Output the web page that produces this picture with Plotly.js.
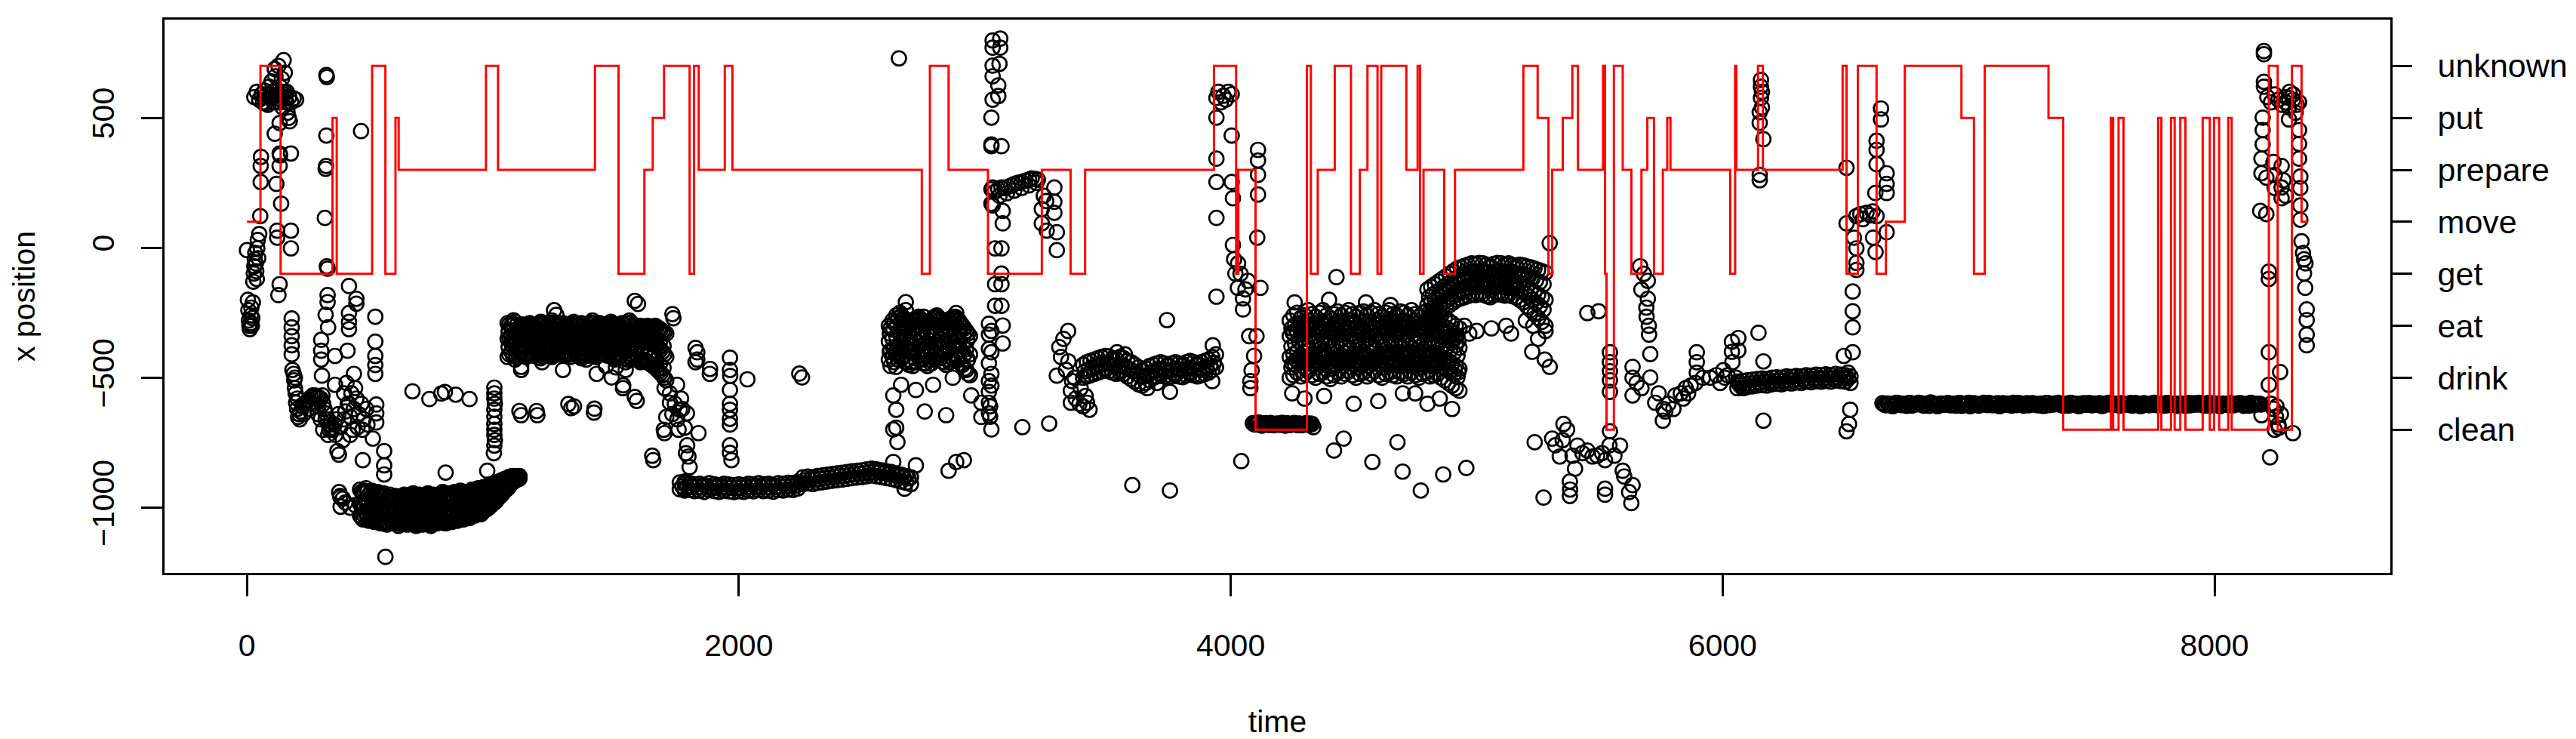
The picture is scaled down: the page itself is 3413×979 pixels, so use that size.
<!DOCTYPE html>
<html>
<head>
<meta charset="utf-8">
<script src="https://cdn.plot.ly/plotly-3.0.1.min.js"></script>
<style>
  html, body { margin: 0; padding: 0; background: #fff; }
  #chart { width: 3413px; height: 979px; }
</style>
</head>
<body>
<div id="chart"></div>
<script>
// activity names on the right axis and the level each one is drawn at
const actLabels = ["clean", "drink", "eat", "get", "move", "prepare", "put", "unknown"];
const actLevels = [-700, -500, -300, -100, 100, 300, 500, 700];

// red step line: time where each activity starts
const stepTimes = [0,55,137,348,365,509,563,604,617,972,1021,1415,1511,1616,1650,1696,1800,1818,1837,1943,1974,2744,2777,2853,
  3013,3232,3349,3408,3932,4022,4031,4101,4310,4326,4354,4423,4489,4525,4556,4597,4612,4714,4760,4770,4784,4868,4912,
  5190,5248,5292,5307,5350,5389,5412,5514,5522,5528,5558,5594,5629,5670,5694,5721,5757,5775,5788,6031,6051,6056,6144,
  6164,6488,6504,6550,6626,6664,6741,6971,7022,7066,7325,7385,7579,7588,7610,7630,7771,7784,7823,7838,7861,7882,7952,
  7981,7998,8019,8056,8070,8221,8257,8315,8354];
const stepActs = ["move","unknown","get","put","get","unknown","get","put","prepare","unknown","prepare","unknown","get","prepare","put","unknown","get","unknown","prepare","unknown","prepare","get","unknown","prepare",
  "get","prepare","get","prepare","unknown","get","prepare","clean","unknown","get","prepare","unknown","get","prepare","unknown","get","unknown","prepare","unknown","get","prepare","get","prepare",
  "unknown","put","get","prepare","put","unknown","prepare","unknown","get","clean","unknown","prepare","get","prepare","put","get","prepare","put","prepare","get","unknown","prepare","unknown",
  "prepare","unknown","get","unknown","get","move","unknown","put","get","unknown","put","clean","put","clean","put","clean","put","clean","put","clean","put","clean","put",
  "clean","put","clean","put","clean","unknown","clean","unknown","move"];
const stepEnd = 8380;

// ---- x position samples, scattered bits as [time, x] ----
const earlyPts = [[0,-9],[4,-200],[6,-240],[8,-280],[10,-300],[12,-313],[14,-290],[16,-260],[18,-230],[20,-300],[22,-270],[24,-210],[26,-130],[28,-99],[30,-71],[32,-44],[34,-20],[36,-60],[38,-90],[40,-120],[42,-2],[44,30],[46,-40],[50,53],[54,122],[56,253],[56,315],[57,350],
  [30,580],[40,600],[50,570],[60,590],[65,560],[70,580],[72,605],[76,556],[80,591],[85,550],[90,620],[95,575],[100,640],[105,600],[110,560],[113,688],[116,660],[120,610],[125,590],[128,700],[130,560],[133,480],[135,620],[138,585],[140,570],[142,650],[145,540],[149,722],[150,590],[152,600],[154,674],[156,577],[160,560],[162,600],[165,520],[170,500],[172,580],[174,487],[180,560],[190,575],[200,570],
  [133,363],[135,356],[133,315],[113,439],[120,246],[139,170],[123,66],[123,39],[179,363],[179,66],[179,-2],[133,-140],[128,-182],[182,-272],[182,-306],[182,-340],[182,-375],[182,-410]];

const dipPts = [[185,-470],[190,-485],[192,-510],[195,-540],[198,-560],[200,-596],[204,-620],[208,-651],[212,-640],[218,-630],[225,-610],[232,-600],[240,-596],[246,-590],[252,-585],[260,-575],[268,-568],[276,-568],[284,-572],[292,-575],[300,-580],[307,-568],[310,-600],[315,-620],[320,-637],[330,-660],[340,-680],[348,-692],[356,-680],[364,-660],[372,-640],
  [195,-500],[205,-580],[215,-660],[230,-640],[250,-620],[270,-600],[290,-610],[320,-660],[335,-700],[290,-640],[300,-660],[310,-700],[330,-720],[345,-700],[360,-720],[380,-690],[395,-660],[400,-630],[410,-600],[420,-650],[430,-700],[420,-720],[390,-740],
  [395,-560],[405,-520],[415,-600],[425,-560],[435,-620],[445,-580],[455,-640],[465,-600],[475,-660],[485,-620],[490,-680],[470,-700],[450,-690],
  [325,657],[323,665],[323,432],[320,304],[322,315],[317,115],[325,-71],[328,-80],[328,-182],[328,-209],[320,-258],[330,-306],[302,-354],[302,-396],[302,-430],[305,-492],[358,-416],[358,-527],[368,-782],[374,-796],[375,-940],[380,-960],
  [415,-147],[445,-196],[445,-215],[415,-251],[415,-285],[415,-313],[409,-396],[435,-485],[440,-540],[464,449],[471,-817],[522,-265],[522,-361],[522,-416],[522,-451],[522,-485],[526,-603],[526,-637],[526,-672],[512,-734],[558,-782],[558,-837],[558,-872],[563,-1189]];

const floorExtra = [[379,-955],[381,-996],[390,-965],[400,-980],[420,-1000],[440,-990],[808,-865],[977,-858]];

const midScatter = [[673,-552],[742,-582],[790,-561],[805,-555],[849,-565],[905,-582],[1006,-538],[1006,-560],[1006,-580],[1008,-600],[1006,-623],[1006,-650],[1006,-678],[1006,-700],[1006,-720],[1008,-740],[1006,-761],[1004,-790],
  [1108,-628],[1115,-644],[1178,-628],[1181,-644],[1307,-601],[1319,-617],[1330,-610],[1411,-634],[1413,-619]];

const upperExtra = [[1084,-279],[1249,-240],[1258,-258],[1115,-458],[1115,-470],[1200,-440],[1285,-470],[1380,-430],[1422,-485],[1460,-455],[1483,-499],[1500,-460],[1530,-529],[1540,-470],[1577,-574],[1577,-204],[1590,-216],[1730,-255],[1734,-271],[1648,-800],[1695,-700]];

const descentPts = [[1698,-540],[1749,-527],[1720,-596],[1760,-623],[1705,-651],[1780,-692],[1836,-713],[1698,-713],[1585,-589],[1529,-540],[1652,-817],[1795,-803],[1800,-844],[1780,-899],[1780,-927],
  [1720,-560],[1740,-600],[1730,-640],[1750,-660],[1770,-620],[1765,-580],[1755,-700],[1790,-760],[1785,-790],[1789,-637],[1824,-385],[1831,-402],[1831,-430],[1824,-440],[1882,-485],[1883,-466],
  [1964,-423],[1964,-470],[1965,-493],[1964,-547],[1964,-600],[1964,-623],[1964,-658],[1964,-680],[1964,-760],[1964,-789],[1970,-817],[2035,-506],[2246,-484],[2257,-499]];

const cluster2Extra = [[2651,729],[2679,-209],[2679,-240],[2751,-265],[2884,-251],[2915,-334],[2639,-458],[2660,-527],[2720,-547],[2790,-527],[2870,-500],[2628,-568],[2640,-623],[2640,-692],[2628,-699],[2645,-747],[2628,-824],[2645,-872],[2674,-927],[2720,-837],[2756,-630],[2843,-644],[2884,-824],[2915,-817],[2853,-858]];

const col3000Pts = [[3032,798],[3032,770],[3032,701],[3032,660],[3032,570],[3027,501],[3027,398],[3032,232],[3032,163],[3042,-2],[3042,-140],[3042,-223],[3027,-320],[3027,-402],[3027,-485],[3027,-530],[3022,-610],[2986,-596],[2945,-568],[2986,-651],[3022,-650],
  [3063,805],[3063,770],[3060,708],[3055,625],[3055,584],[3068,391],[3027,391],[3017,-292],[3017,-334],[3017,-389],[3017,-444],[3017,-513],[3017,-554],[3017,-596],[3017,-637],[3027,-699],
  [3073,142],[3073,94],[3068,-2],[3068,-99],[3068,-140],[3068,-223],[3073,-299],[3073,-368]];

const band3aPts = [[3027,225],[3027,170],[3040,215],[3055,225],[3068,232],[3080,230],[3095,235],[3109,240],[3120,245],[3135,250],[3150,253],[3165,258],[3180,262],[3191,267],[3205,265],[3216,262],[3060,200],[3090,210],[3120,220],[3150,230],[3180,240],[3210,250],
  [3283,232],[3283,177],[3283,135],[3232,149],[3232,94],[3252,66],[3293,60],[3293,-9],[3240,200],[3250,180],[3153,-690],[3262,-676]];

const cluster3aPts = [[3339,-320],[3320,-350],[3303,-382],[3340,-437],[3293,-492],[3355,-513],[3350,-596],[3416,-596],[3426,-623],[3330,-470],[3350,-550],[3370,-580],[3385,-600],[3400,-610],[3410,-570],[3390,-540],[3310,-420],[3365,-500]];

const band3bExtra = [[3538,-402],[3570,-410],[3661,-540],[3700,-520],[3753,-554],[3927,-375],[3930,-444],[3925,-513],[3600,-913],[3753,-934],[3741,-278]];

const col4000Pts = [[3942,577],[4004,591],[3970,585],[3960,560],[3950,600],[3980,570],[3990,600],[3942,501],[4004,432],[3942,343],[3942,253],[4004,253],[4009,191],[3942,115],[3942,-188],[4009,11],[4014,-44],[4019,-99],[4029,-154],[4050,-195],[4050,-237],[4070,-127],[4030,-60],[4040,-100],[4060,-160],
  [4111,377],[4111,336],[4111,281],[4111,205],[4108,39],[4121,-154],[4075,-340],[4105,-340],[4095,-416],[4085,-471],[4080,-513],[4080,-540],[4043,-821]];

const cleanPts = [[4090,-675],[4096,-679],[4102,-680],[4108,-676],[4114,-672],[4120,-681],[4126,-684],[4132,-678],[4138,-676],[4144,-675],[4150,-680],[4156,-682],[4162,-674],[4168,-678],[4174,-683],[4180,-680],[4186,-677],[4192,-676],[4198,-681],[4204,-679],[4210,-673],[4216,-681],[4222,-684],[4228,-675],[4234,-678],[4240,-682],[4246,-680],[4252,-677],[4258,-674],[4264,-679],[4270,-682],[4276,-676],[4282,-677],[4288,-683],[4294,-680],[4300,-678],[4306,-675],[4312,-679],[4318,-682],[4324,-676],[4330,-678],[4336,-690]];

const cluster3Extra = [[4459,-734],[4420,-780],[4576,-824],[4430,-113],[4678,-748],[4699,-861],[4773,-934],[4864,-872],[4958,-847],[4250,-560],[4300,-580],[4380,-570],[4500,-600],[4600,-590],[4700,-560],[4800,-600],[4900,-620],[4850,-580],[4750,-560],[4550,-210],[4650,-220],[4260,-210],[4400,-200]];

const humpExtra = [[5277,-430],[5297,-458],[5226,-400],[5250,-350],[5280,-320],[5297,18],[5450,-251],[5496,-244],[5200,-280],[5230,-300],[4950,-300],[5000,-320],[5060,-310],[5120,-300],[5140,-330],[4970,-330]];

const cluster5Pts = [[5236,-748],[5307,-734],[5353,-678],[5368,-700],[5338,-803],[5410,-761],[5471,-803],[5522,-817],[5583,-761],[5379,-899],[5379,-955],[5522,-927],[5522,-950],[5594,-858],[5634,-913],[5629,-982],[5272,-961],[5542,-706],
  [5320,-760],[5350,-740],[5390,-800],[5430,-790],[5450,-780],[5490,-800],[5510,-790],[5540,-760],[5560,-800],[5600,-880],[5620,-940],[5400,-850],[5380,-930],
  [5542,-402],[5542,-440],[5542,-475],[5542,-510],[5542,-554]];

const cluster6Pts = [[5665,-71],[5696,-127],[5670,-161],[5696,-196],[5691,-265],[5701,-334],[5706,-409],[5680,-100],[5690,-230],[5700,-300]];

const band4Pts = [[5634,-458],[5634,-500],[5634,-568],[5650,-520],[5670,-540],[5706,-499],[5726,-596],[5757,-665],[5767,-630],[5740,-560],[5780,-600],[5808,-568],[5830,-560],[5850,-540],[5870,-530],[5895,-402],[5895,-440],[5895,-480],[5890,-520],[5920,-500],[5950,-500],[5975,-490],[6003,-471],[6010,-500],[6038,-361],[6038,-400],[6040,-440],[6055,-500],[6070,-520],[6084,-540],[5760,-620],[5800,-620],[5840,-580],[5860,-560],[5990,-520],[6020,-490]];

const col6150Pts = [[6156,646],[6156,620],[6160,600],[6156,577],[6160,540],[6151,522],[6151,481],[6166,418],[6151,281],[6151,260],[6146,-327],[6166,-437],[6166,-665],[6064,-347],[6064,-395]];

const col6500Pts = [[6504,308],[6504,94],[6534,39],[6544,-2],[6544,-58],[6544,-85],[6529,-168],[6529,-244],[6529,-306],[6493,-416],[6529,-402],[6519,-623],[6514,-678],[6504,-706],[6500,-500],[6510,-480],
  [6544,122],[6585,135],[6626,122],[6560,130],[6600,125],[6570,110],[6610,140],[6612,39],[6622,-16],[6644,536],[6644,494],[6626,412],[6626,377],[6626,322],[6667,287],[6667,246],[6667,211],[6621,211],[6667,60]];

const endPts = [[8201,757],[8201,745],[8201,639],[8201,620],[8196,501],[8196,453],[8196,398],[8191,343],[8191,287],[8211,270],[8186,142],[8211,130],[8221,-92],[8221,-120],[8221,-402],[8267,-478],[8221,-527],[8252,-610],[8262,-692],[8226,-806],[8319,-713],[8191,-644],
  [8230,-600],[8240,-620],[8250,-650],[8260,-680],[8270,-640],[8245,-700],[8240,330],[8245,280],[8245,230],
  [8215,580],[8230,560],[8245,590],[8260,570],[8275,550],[8290,580],[8305,600],[8320,570],[8335,550],[8303,577],[8303,540],[8303,494],[8344,560],[8290,560],[8320,590],[8330,520],
  [8273,315],[8273,232],[8273,191],[8280,260],[8290,200],[8344,453],[8344,400],[8344,343],[8349,274],[8349,230],[8349,163],[8349,108],[8354,25],[8360,-20],[8364,-44],[8370,-60],[8364,-99],[8369,-154],[8375,-237],[8375,-278],[8375,-334],[8375,-375]];

// ---- dense runs: one time list, several rows of values read across the run ----
const floorT = [460,472,484,496,508,520,532,544,556,568,580,592,604,616,628,640,652,664,676,688,700,712,724,736,748,760,772,784,796,808,820,832,844,856,868,880,892,904,916,928,940,952,964,976,988,1000,1012,1024,1036,1048,1060,1072,1084,1096,1108];
const floorTop = [-930,-945,-925,-950,-935,-960,-940,-955,-945,-965,-950,-970,-955,-975,-960,-950,-965,-955,-945,-960,-950,-965,-955,-945,-960,-950,-965,-950,-940,-955,-945,-960,-940,-950,-935,-950,-940,-945,-930,-940,-925,-935,-920,-925,-910,-915,-905,-900,-895,-890,-885,-880,-878,-880,-878];
const floorMid = [-985,-1000,-975,-1005,-990,-1010,-995,-1015,-1000,-1020,-1005,-1025,-1010,-1030,-1015,-1000,-1025,-1010,-1000,-1020,-1005,-1025,-1010,-1000,-1020,-1005,-1020,-1010,-995,-1015,-1000,-1015,-995,-1005,-990,-1000,-990,-995,-985,-990,-975,-985,-965,-970,-955,-950,-940,-930,-920,-910,-900,-895,-890,-885,-882];
const floorLow = [-1030,-1045,-1020,-1050,-1040,-1055,-1035,-1060,-1050,-1065,-1045,-1060,-1050,-1070,-1055,-1045,-1065,-1050,-1060,-1070,-1055,-1065,-1050,-1060,-1070,-1050,-1060,-1055,-1045,-1060,-1050,-1055,-1045,-1050,-1040,-1045,-1035,-1040,-1030,-1030,-1020,-1025,-1010,-1005,-995,-985,-975,-960,-950,-935,-925,-910,-900,-892,-888];
const floorT2 = [466,478,490,502,514,526,538,550,562,574,586,598,610,622,634,646,658,670,682,694,706,718,730,742,754,766,778,790,802,814,826,838,850,862,874,886,898,910,922,934,946,958,970,982,994,1006,1018,1030,1042,1054,1066,1078,1090,1102];
const floorTop2 = [-938,-935,-938,-943,-948,-950,-948,-950,-955,-958,-960,-962,-965,-968,-955,-958,-960,-950,-952,-955,-958,-960,-950,-952,-955,-958,-958,-945,-948,-950,-952,-950,-945,-942,-942,-945,-942,-938,-935,-932,-930,-928,-922,-918,-912,-910,-902,-898,-892,-888,-882,-879,-879,-879];
const floorMid2 = [-992,-988,-990,-998,-1000,-1002,-1005,-1008,-1010,-1012,-1015,-1018,-1020,-1022,-1008,-1012,-1018,-1005,-1010,-1012,-1015,-1018,-1005,-1010,-1012,-1015,-1012,-1002,-1005,-1008,-1008,-1005,-1000,-998,-995,-995,-992,-990,-988,-982,-980,-975,-968,-962,-952,-945,-935,-925,-915,-905,-898,-892,-888,-884];
const floorLow2 = [-1038,-1032,-1035,-1045,-1048,-1045,-1048,-1055,-1058,-1055,-1052,-1055,-1060,-1062,-1050,-1055,-1058,-1055,-1065,-1062,-1060,-1058,-1055,-1065,-1060,-1055,-1058,-1050,-1052,-1055,-1052,-1050,-1048,-1045,-1042,-1040,-1038,-1035,-1030,-1025,-1022,-1018,-1008,-1000,-990,-980,-968,-955,-942,-930,-918,-905,-896,-890];

const upperT = [1060,1075,1090,1105,1120,1135,1150,1165,1180,1195,1210,1225,1240,1255,1270,1285,1300,1315,1330,1345,1360,1375,1390,1405,1420,1435,1450,1465,1480,1495,1510,1525,1540,1555,1570,1585,1600,1615,1630,1645,1660,1675,1690,1705];
const upperTop = [-290,-300,-285,-310,-295,-305,-290,-300,-310,-285,-295,-305,-280,-295,-300,-290,-305,-295,-285,-300,-290,-310,-295,-280,-300,-290,-305,-295,-285,-300,-310,-290,-300,-280,-295,-305,-300,-305,-300,-310,-300,-310,-320,-330];
const upperMid = [-350,-340,-360,-345,-355,-340,-350,-360,-345,-355,-340,-350,-360,-345,-355,-350,-340,-360,-350,-345,-355,-340,-360,-350,-345,-360,-350,-340,-355,-360,-350,-345,-360,-350,-355,-345,-360,-365,-360,-370,-375,-385,-400,-420];
const upperLow = [-420,-400,-430,-410,-400,-420,-405,-415,-400,-425,-410,-400,-420,-410,-400,-415,-405,-420,-400,-410,-425,-405,-415,-400,-420,-410,-405,-415,-400,-430,-420,-410,-440,-420,-430,-415,-440,-430,-440,-450,-460,-475,-490,-510];
const upperT2 = [1067,1082,1097,1112,1127,1142,1157,1172,1187,1202,1217,1232,1247,1262,1277,1292,1307,1322,1337,1352,1367,1382,1397,1412,1427,1442,1457,1472,1487,1502,1517,1532,1547,1562,1577,1592,1607,1622,1637,1652,1667,1682,1697];
const upperTop2 = [-295,-292,-298,-302,-300,-298,-295,-305,-298,-290,-300,-292,-288,-298,-295,-298,-300,-290,-292,-295,-300,-302,-288,-290,-295,-298,-300,-290,-292,-305,-300,-295,-290,-288,-300,-302,-302,-302,-305,-305,-305,-315,-325];
const upperMid2 = [-345,-350,-352,-350,-348,-345,-355,-352,-350,-348,-345,-355,-352,-350,-352,-345,-350,-355,-348,-350,-348,-350,-355,-348,-352,-355,-345,-348,-358,-355,-348,-352,-355,-352,-350,-352,-362,-362,-365,-372,-380,-392,-410];
const upperLow2 = [-410,-415,-420,-405,-410,-412,-410,-408,-412,-418,-405,-410,-415,-405,-408,-410,-412,-410,-405,-418,-415,-410,-408,-410,-415,-408,-410,-408,-415,-425,-415,-425,-430,-425,-422,-428,-435,-435,-445,-455,-468,-482,-500];
const upperT3 = [1064,1079,1094,1109,1124,1139,1154,1169,1184,1199,1214,1229,1244,1259,1274,1289,1304,1319,1334,1349,1364,1379,1394,1409,1424,1439,1454,1469,1484,1499,1514,1529,1544,1559,1574,1589,1604,1619,1634,1649,1664,1679,1694];
const upperD3 = [-322,-318,-325,-320,-328,-315,-322,-330,-318,-324,-320,-326,-318,-322,-328,-320,-324,-316,-322,-326,-320,-318,-325,-322,-320,-326,-318,-324,-322,-328,-320,-325,-318,-322,-326,-320,-328,-332,-335,-342,-350,-362,-378];
const upperE3 = [-382,-378,-388,-380,-376,-384,-380,-386,-378,-382,-376,-384,-380,-378,-386,-382,-376,-384,-380,-378,-386,-380,-384,-378,-382,-388,-380,-376,-384,-392,-384,-380,-394,-386,-390,-382,-396,-402,-410,-420,-432,-448,-462];

const floor2T = [1760,1780,1800,1820,1840,1860,1880,1900,1920,1940,1960,1980,2000,2020,2040,2060,2080,2100,2120,2140,2160,2180,2200,2220,2240,2260,2280,2300,2320,2340,2360,2380,2400,2420,2440,2460,2480,2500,2520,2540,2560,2580,2600,2620,2640,2660,2680,2700];
const floor2Top = [-903,-908,-906,-910,-908,-913,-906,-910,-913,-908,-911,-914,-910,-913,-908,-911,-906,-910,-908,-912,-906,-908,-904,-906,-900,-883,-880,-883,-878,-876,-873,-870,-868,-866,-863,-860,-858,-856,-853,-850,-853,-856,-860,-863,-868,-873,-878,-883];
const floor2Low = [-929,-934,-932,-936,-934,-939,-932,-936,-939,-934,-937,-940,-936,-939,-934,-937,-932,-936,-934,-938,-932,-934,-930,-932,-926,-909,-906,-909,-904,-902,-899,-896,-894,-892,-889,-886,-884,-882,-879,-876,-879,-882,-886,-889,-894,-899,-904,-909];
const floor2T2 = [1770,1790,1810,1830,1850,1870,1890,1910,1930,1950,1970,1990,2010,2030,2050,2070,2090,2110,2130,2150,2170,2190,2210,2230,2250,2270,2290,2310,2330,2350,2370,2390,2410,2430,2450,2470,2490,2510,2530,2550,2570,2590,2610,2630,2650,2670,2690];
const floor2Mid2 = [-918,-919,-920,-921,-922,-921,-920,-923,-922,-921,-924,-924,-923,-922,-921,-920,-920,-921,-922,-921,-919,-918,-917,-915,-904,-894,-893,-892,-889,-887,-884,-881,-879,-877,-874,-871,-869,-867,-864,-862,-863,-866,-870,-873,-877,-882,-887];

const cl2T = [2610,2625,2640,2655,2670,2685,2700,2715,2730,2745,2760,2775,2790,2805,2820,2835,2850,2865,2880,2895,2910,2925,2940];
const cl2Top = [-300,-280,-260,-250,-270,-280,-290,-275,-265,-280,-290,-285,-270,-260,-275,-290,-280,-270,-265,-280,-300,-320,-340];
const cl2Mid = [-360,-350,-340,-330,-345,-350,-360,-350,-340,-350,-365,-355,-340,-335,-350,-360,-355,-345,-340,-355,-370,-390,-410];
const cl2Low = [-430,-420,-410,-400,-420,-430,-440,-425,-415,-430,-445,-430,-420,-410,-425,-440,-430,-420,-415,-430,-450,-470,-490];
const cl2T2 = [2617,2632,2647,2662,2677,2692,2707,2722,2737,2752,2767,2782,2797,2812,2827,2842,2857,2872,2887,2902,2917,2932];
const cl2A2 = [-310,-290,-270,-262,-275,-285,-282,-270,-272,-285,-288,-278,-265,-268,-282,-285,-275,-268,-272,-290,-310,-330];
const cl2B2 = [-395,-385,-375,-365,-382,-390,-400,-388,-378,-390,-405,-392,-380,-372,-388,-400,-392,-382,-378,-392,-410,-430];
const cl2C2 = [-455,-440,-430,-425,-440,-450,-455,-440,-430,-445,-455,-445,-430,-420,-438,-450,-440,-430,-425,-445,-465,-485];
const cl2T3 = [2614,2629,2644,2659,2674,2689,2704,2719,2734,2749,2764,2779,2794,2809,2824,2839,2854,2869,2884,2899,2914,2929];
const cl2D3 = [-330,-315,-300,-292,-308,-318,-322,-310,-302,-315,-326,-318,-305,-298,-312,-322,-315,-306,-302,-318,-335,-355];
const cl2E3 = [-400,-390,-378,-368,-385,-395,-402,-390,-380,-392,-408,-395,-382,-375,-390,-402,-395,-385,-380,-395,-415,-435];

const band3bT = [3400,3415,3430,3445,3460,3475,3490,3505,3520,3535,3550,3565,3580,3595,3610,3625,3640,3655,3670,3685,3700,3715,3730,3745,3760,3775,3790,3805,3820,3835,3850,3865,3880,3895,3910,3925,3940];
const band3bTop = [-450,-440,-435,-430,-425,-420,-416,-418,-425,-430,-420,-425,-435,-440,-450,-460,-470,-465,-455,-450,-445,-440,-445,-450,-445,-440,-445,-448,-440,-435,-440,-445,-440,-435,-430,-420,-410];
const band3bLow = [-500,-495,-490,-485,-480,-475,-470,-475,-480,-485,-480,-485,-495,-505,-515,-525,-530,-520,-510,-500,-495,-490,-495,-500,-495,-490,-495,-498,-490,-485,-490,-495,-490,-485,-480,-470,-460];
const band3bT2 = [3407,3422,3437,3452,3467,3482,3497,3512,3527,3542,3557,3572,3587,3602,3617,3632,3647,3662,3677,3692,3707,3722,3737,3752,3767,3782,3797,3812,3827,3842,3857,3872,3887,3902,3917,3932];
const band3bMid2 = [-475,-468,-462,-458,-452,-446,-444,-448,-452,-456,-452,-458,-466,-474,-484,-492,-496,-490,-480,-474,-468,-466,-470,-472,-468,-466,-470,-470,-465,-462,-466,-468,-465,-460,-452,-442];

const cl3T = [4240,4255,4270,4285,4300,4315,4330,4345,4360,4375,4390,4405,4420,4435,4450,4465,4480,4495,4510,4525,4540,4555,4570,4585,4600,4615,4630,4645,4660,4675,4690,4705,4720,4735,4750,4765,4780,4795,4810,4825,4840,4855,4870,4885,4900,4915,4930];
const cl3R1 = [-280,-260,-250,-270,-260,-240,-255,-265,-250,-240,-260,-270,-255,-245,-260,-250,-240,-255,-265,-250,-245,-260,-250,-240,-255,-265,-250,-240,-255,-260,-245,-250,-260,-240,-255,-265,-250,-245,-260,-255,-250,-265,-270,-280,-290,-300,-310];
const cl3R2 = [-340,-330,-320,-335,-325,-315,-330,-340,-325,-320,-335,-345,-330,-320,-335,-325,-315,-330,-340,-325,-320,-335,-325,-315,-330,-340,-325,-320,-330,-335,-320,-325,-335,-320,-330,-340,-325,-320,-335,-330,-325,-340,-345,-355,-365,-375,-385];
const cl3R3 = [-420,-410,-400,-415,-405,-395,-410,-420,-405,-400,-415,-425,-410,-400,-415,-405,-395,-410,-420,-405,-400,-415,-405,-395,-410,-420,-405,-400,-410,-415,-400,-405,-415,-400,-410,-420,-405,-400,-415,-410,-405,-420,-425,-435,-445,-455,-465];
const cl3R4 = [-500,-490,-480,-495,-485,-475,-490,-500,-485,-480,-495,-505,-490,-480,-495,-485,-475,-490,-500,-485,-480,-495,-485,-475,-490,-500,-485,-480,-490,-495,-480,-485,-495,-480,-490,-500,-485,-480,-495,-490,-485,-500,-510,-520,-530,-540,-550];
const cl3T2 = [4247,4262,4277,4292,4307,4322,4337,4352,4367,4382,4397,4412,4427,4442,4457,4472,4487,4502,4517,4532,4547,4562,4577,4592,4607,4622,4637,4652,4667,4682,4697,4712,4727,4742,4757,4772,4787,4802,4817,4832,4847,4862,4877,4892,4907,4922];
const cl3A2 = [-310,-295,-290,-300,-292,-280,-292,-302,-288,-282,-298,-308,-292,-282,-298,-288,-278,-292,-302,-288,-282,-298,-288,-278,-292,-302,-288,-282,-292,-298,-282,-288,-298,-282,-292,-302,-288,-282,-298,-292,-288,-302,-308,-318,-328,-338];
const cl3B2 = [-380,-370,-360,-375,-365,-355,-370,-380,-365,-360,-375,-385,-370,-360,-375,-365,-355,-370,-380,-365,-360,-375,-365,-355,-370,-380,-365,-360,-370,-375,-360,-365,-375,-360,-370,-380,-365,-360,-375,-370,-365,-380,-385,-395,-405,-415];
const cl3C2 = [-460,-450,-440,-455,-445,-435,-450,-460,-445,-440,-455,-465,-450,-440,-455,-445,-435,-450,-460,-445,-440,-455,-445,-435,-450,-460,-445,-440,-450,-455,-440,-445,-455,-440,-450,-460,-445,-440,-455,-450,-445,-460,-468,-478,-488,-498];
const cl3T3 = [4251,4266,4281,4296,4311,4326,4341,4356,4371,4386,4401,4416,4431,4446,4461,4476,4491,4506,4521,4536,4551,4566,4581,4596,4611,4626,4641,4656,4671,4686,4701,4716,4731,4746,4761,4776,4791,4806,4821,4836,4851,4866,4881,4896,4911,4926];
const cl3D3 = [-325,-315,-305,-318,-310,-300,-312,-322,-308,-302,-318,-328,-312,-302,-318,-308,-298,-312,-322,-308,-302,-318,-308,-298,-312,-322,-308,-302,-312,-318,-302,-308,-318,-302,-312,-322,-308,-302,-318,-312,-308,-322,-328,-338,-348,-358];
const cl3E3 = [-445,-432,-422,-438,-428,-418,-432,-442,-428,-422,-438,-448,-432,-422,-438,-428,-418,-432,-442,-428,-422,-438,-428,-418,-432,-442,-428,-422,-432,-438,-422,-428,-438,-422,-432,-442,-428,-422,-438,-432,-428,-442,-448,-458,-468,-478];

const humpT = [4800,4815,4830,4845,4860,4875,4890,4905,4920,4935,4950,4965,4980,4995,5010,5025,5040,5055,5070,5085,5100,5115,5130,5145,5160,5175,5190,5205,5220,5235,5250,5265,5280];
const humpH1 = [-160,-150,-140,-130,-120,-110,-100,-90,-80,-75,-70,-65,-60,-62,-58,-60,-65,-70,-62,-58,-60,-64,-60,-66,-70,-65,-68,-72,-75,-80,-85,-90,-95];
const humpH2 = [-220,-210,-200,-190,-180,-170,-160,-150,-140,-135,-130,-125,-120,-122,-118,-120,-125,-130,-122,-118,-120,-124,-120,-126,-130,-135,-140,-150,-160,-170,-180,-190,-200];
const humpH3 = [-280,-270,-260,-250,-240,-230,-220,-210,-200,-195,-190,-185,-180,-182,-178,-180,-185,-190,-182,-178,-180,-184,-180,-186,-190,-200,-210,-225,-240,-255,-270,-285,-300];
const humpT2 = [4807,4822,4837,4852,4867,4882,4897,4912,4927,4942,4957,4972,4987,5002,5017,5032,5047,5062,5077,5092,5107,5122,5137,5152,5167,5182,5197,5212,5227,5242,5257,5272];
const humpA2 = [-190,-180,-170,-160,-150,-140,-130,-120,-110,-105,-100,-95,-90,-92,-88,-90,-95,-100,-92,-88,-90,-94,-90,-96,-100,-100,-104,-110,-118,-125,-132,-140];
const humpB2 = [-250,-240,-230,-220,-210,-200,-190,-180,-170,-165,-160,-155,-150,-152,-148,-150,-155,-160,-152,-148,-150,-154,-150,-156,-160,-168,-175,-188,-200,-212,-225,-238];

const band5T = [6060,6080,6100,6120,6140,6160,6180,6200,6220,6240,6260,6280,6300,6320,6340,6360,6380,6400,6420,6440,6460,6480,6500,6520];
const band5Top = [-515,-512,-510,-508,-505,-503,-505,-500,-498,-500,-495,-497,-493,-495,-490,-492,-488,-490,-487,-490,-485,-488,-490,-495];
const band5Low = [-540,-538,-535,-533,-530,-528,-530,-525,-523,-525,-520,-522,-518,-520,-515,-517,-513,-515,-512,-515,-510,-513,-515,-520];
const band5T2 = [6070,6090,6110,6130,6150,6170,6190,6210,6230,6250,6270,6290,6310,6330,6350,6370,6390,6410,6430,6450,6470,6490,6510];
const band5Mid2 = [-528,-525,-522,-520,-517,-516,-517,-512,-511,-512,-508,-510,-506,-508,-503,-505,-501,-503,-500,-503,-498,-500,-503];

const longT = [6650,6664,6678,6692,6706,6720,6734,6748,6762,6776,6790,6804,6818,6832,6846,6860,6874,6888,6902,6916,6930,6944,6958,6972,6986,7000,7014,7028,7042,7056,7070,7084,7098,7112,7126,7140,7154,7168,7182,7196,7210,7224,7238,7252,7266,7280,7294,7308,7322,7336,7350,7364,7378,7392,7406,7420,7434,7448,7462,7476,7490,7504,7518,7532,7546,7560,7574,7588,7602,7616,7630,7644,7658,7672,7686,7700,7714,7728,7742,7756,7770,7784,7798,7812,7826,7840,7854,7868,7882,7896,7910,7924,7938,7952,7966,7980,7994,8008,8022,8036,8050,8064,8078,8092,8106,8120,8134,8148,8162,8176,8190];
const longV = [-598,-606,-601,-609,-596,-604,-600,-608,-597,-605,
  -602,-598,-607,-600,-595,-603,-609,-599,-604,-597,
  -606,-601,-598,-608,-603,-596,-605,-600,-607,-599,
  -603,-597,-606,-601,-609,-598,-604,-600,-596,-605,
  -601,-607,-598,-603,-599,-606,-600,-608,-597,-604,
  -602,-596,-605,-600,-607,-598,-603,-609,-599,-604,
  -597,-606,-601,-598,-608,-603,-596,-605,-600,-607,
  -599,-603,-597,-606,-601,-609,-598,-604,-600,-596,
  -605,-601,-607,-598,-603,-599,-606,-600,-608,-597,
  -604,-602,-596,-605,-600,-607,-598,-603,-609,-599,
  -604,-597,-606,-601,-598,-608,-603,-596,-605,-600,-603];
const longT2 = [6657,6671,6685,6699,6713,6727,6741,6755,6769,6783,6797,6811,6825,6839,6853,6867,6881,6895,6909,6923,6937,6951,6965,6979,6993,7007,7021,7035,7049,7063,7077,7091,7105,7119,7133,7147,7161,7175,7189,7203,7217,7231,7245,7259,7273,7287,7301,7315,7329,7343,7357,7371,7385,7399,7413,7427,7441,7455,7469,7483,7497,7511,7525,7539,7553,7567,7581,7595,7609,7623,7637,7651,7665,7679,7693,7707,7721,7735,7749,7763,7777,7791,7805,7819,7833,7847,7861,7875,7889,7903,7917,7931,7945,7959,7973,7987,8001,8015,8029,8043,8057,8071,8085,8099,8113,8127,8141,8155,8169,8183];
const longV2 = [-603,-599,-606,-601,-597,-605,-602,-598,-607,-600,
  -596,-604,-600,-608,-598,-606,-601,-603,-599,-605,
  -600,-607,-597,-603,-601,-609,-598,-604,-602,-596,
  -605,-600,-603,-598,-606,-601,-599,-607,-603,-597,
  -604,-600,-606,-598,-603,-601,-608,-597,-605,-600,
  -599,-603,-607,-601,-596,-604,-600,-606,-598,-602,
  -605,-599,-603,-608,-600,-597,-604,-601,-606,-598,
  -603,-600,-607,-597,-604,-599,-602,-606,-598,-605,
  -600,-603,-597,-605,-601,-608,-599,-604,-600,-606,
  -598,-603,-600,-607,-597,-604,-601,-599,-605,-602,
  -606,-600,-603,-598,-604,-601,-607,-599,-603,-600];


class ActivityChart {

    constructor(container){
        this.container = container;
        this.model = {
            pairSets: [earlyPts, dipPts, floorExtra, midScatter, upperExtra, descentPts, cluster2Extra, col3000Pts,
                       band3aPts, cluster3aPts, band3bExtra, col4000Pts, cleanPts, cluster3Extra, humpExtra,
                       cluster5Pts, cluster6Pts, band4Pts, col6150Pts, col6500Pts, endPts],
            runs: [
                [floorT, floorTop, floorMid, floorLow],
                [floorT2, floorTop2, floorMid2, floorLow2],
                [upperT, upperTop, upperMid, upperLow],
                [upperT2, upperTop2, upperMid2, upperLow2],
                [upperT3, upperD3, upperE3],
                [floor2T, floor2Top, floor2Low],
                [floor2T2, floor2Mid2],
                [cl2T, cl2Top, cl2Mid, cl2Low],
                [cl2T2, cl2A2, cl2B2, cl2C2],
                [cl2T3, cl2D3, cl2E3],
                [band3bT, band3bTop, band3bLow],
                [band3bT2, band3bMid2],
                [cl3T, cl3R1, cl3R2, cl3R3, cl3R4],
                [cl3T2, cl3A2, cl3B2, cl3C2],
                [cl3T3, cl3D3, cl3E3],
                [humpT, humpH1, humpH2, humpH3],
                [humpT2, humpA2, humpB2],
                [band5T, band5Top, band5Low],
                [band5T2, band5Mid2],
                [longT, longV],
                [longT2, longV2]
            ]
        }
    }

    _points(){
        const t = [], x = [];
        this.model.pairSets.forEach((set)=>{
            set.forEach((p)=>{ t.push(p[0]); x.push(p[1]); })
        })
        this.model.runs.forEach((run)=>{
            const times = run[0];
            run.slice(1).forEach((row)=>{
                row.forEach((v, i)=>{ t.push(times[i]); x.push(v); })
            })
        })
        return {t, x};
    }

    _steps(){
        const lvl = stepActs.map((a)=>actLevels[actLabels.indexOf(a)]);
        return {
            t: stepTimes.concat([stepEnd]),
            y: lvl.concat([lvl[lvl.length-1]])
        }
    }

    draw(){
        const pts = this._points();
        const st = this._steps();
        const font = "Liberation Sans, Arial, Helvetica, sans-serif";

        const points = {
            x: pts.t, y: pts.x,
            type: 'scatter', mode: 'markers',
            marker: {symbol: 'circle-open', size: 19, color: 'black', line: {width: 2.7, color: 'black'}},
            hoverinfo: 'skip'
        }
        const activity = {
            x: st.t, y: st.y, yaxis: 'y2',
            type: 'scatter', mode: 'lines',
            line: {color: '#ff0000', width: 3, shape: 'hv'},
            hoverinfo: 'skip'
        }

        const axisCommon = {
            ticks: 'outside', ticklen: 28, tickwidth: 3, tickcolor: 'black',
            showgrid: false, zeroline: false,
            tickfont: {family: font, size: 41, color: 'black'}
        }

        const layout = {
            width: 3413, height: 979,
            margin: {l: 218, r: 246, t: 26, b: 220},
            paper_bgcolor: 'white', plot_bgcolor: 'white',
            showlegend: false,
            font: {family: font, size: 41, color: 'black'},
            xaxis: Object.assign({}, axisCommon, {
                range: [-335, 8715],
                tickvals: [0, 2000, 4000, 6000, 8000],
                showline: true, linewidth: 3, linecolor: 'black', mirror: true,
                ticklabelstandoff: 30,
                title: {text: 'time', font: {family: font, size: 41, color: 'black'}, standoff: 70}
            }),
            yaxis: Object.assign({}, axisCommon, {
                range: [-1251, 878],
                tickvals: [-1000, -500, 0, 500],
                tickangle: -90,
                showline: true, linewidth: 3, linecolor: 'black', mirror: true,
                ticklabelstandoff: 20,
                title: {text: 'x position', font: {family: font, size: 41, color: 'black'}, standoff: 55}
            }),
            yaxis2: Object.assign({}, axisCommon, {
                overlaying: 'y', side: 'right',
                range: [-1251, 878],
                tickvals: actLevels, ticktext: actLabels,
                tickfont: {family: font, size: 43, color: 'black'},
                showline: false,
                ticklabelstandoff: 25
            })
        }

        Plotly.newPlot(this.container, [points, activity], layout, {displayModeBar: false, staticPlot: true});
    }
}

new ActivityChart(document.getElementById('chart')).draw();
</script>
</body>
</html>
